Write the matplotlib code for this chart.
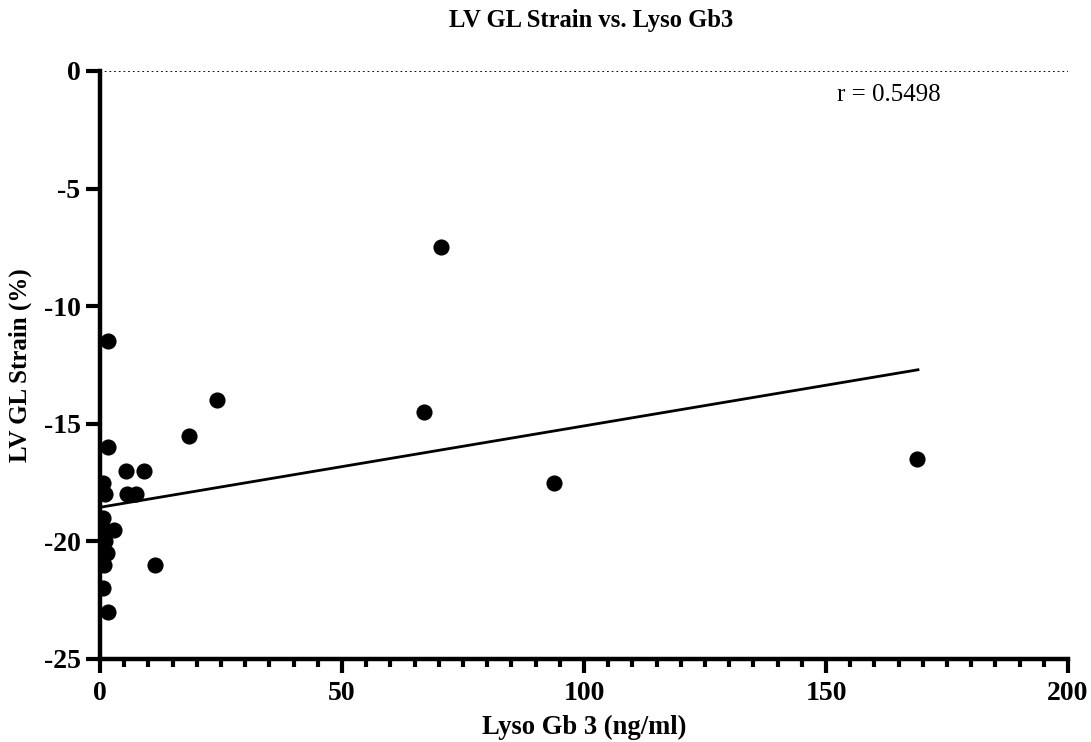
import matplotlib
matplotlib.use("Agg")
import matplotlib.pyplot as plt
import numpy as np

# Data
lyso_gb3 = [1.6, 24.1, 18.4, 1.6, 5.4, 9.0, 0.55, 1.0, 5.5, 7.4, 0.55, 1.0, 2.8,
            1.0, 1.4, 0.8, 11.4, 0.55, 1.7, 70.5, 67.0, 93.8, 168.8]
lv_gl_strain = [-11.5, -14.0, -15.5, -16.0, -17.0, -17.0, -17.5, -18.0, -18.0, -18.0,
                -19.0, -19.5, -19.5, -20.0, -20.5, -21.0, -21.0, -22.0, -23.0,
                -7.5, -14.5, -17.5, -16.5]
fit_intercept = -18.55
fit_slope = 0.0346
fit_range = [0, 169]
r_value = 0.5498
x_ticks = [0, 50, 100, 150, 200]
y_ticks = [0, -5, -10, -15, -20, -25]

plt.rcParams['font.family'] = ['Liberation Serif', 'DejaVu Serif']
plt.rcParams['axes.unicode_minus'] = False

fig = plt.figure(figsize=(10.91, 7.42), dpi=100)
ax = fig.add_axes([100/1091, 1-659/742, (1068-100)/1091, (659-71)/742])

ax.scatter(lyso_gb3, lv_gl_strain, s=135, color='black', zorder=3, linewidths=0)
fx = np.array(fit_range, dtype=float)
ax.plot(fx, fit_intercept + fit_slope*fx, color='black', lw=2, zorder=2)
ax.axhline(0, color='black', lw=1.3, ls=(0, (1, 1.6)), zorder=1)

ax.set_xlim(0, 200)
ax.set_ylim(-25, 0)
for s in ['top', 'right']:
    ax.spines[s].set_visible(False)
for s in ['left', 'bottom']:
    ax.spines[s].set_linewidth(3.2)

ax.set_xticks(x_ticks)
ax.set_xticks(np.arange(0, 201, 5), minor=True)
ax.set_yticks(y_ticks)
ax.tick_params(axis='x', which='major', length=10, width=3, direction='out', pad=6)
ax.tick_params(axis='x', which='minor', length=6, width=3, direction='out')
ax.tick_params(axis='y', which='major', length=10, width=3, direction='out', pad=4)
for lab in ax.get_xticklabels() + ax.get_yticklabels():
    lab.set_fontweight('bold')
    lab.set_fontsize(20)

ax.set_xlabel('Lyso Gb 3 (ng/ml)', fontsize=19.2, fontweight='bold', labelpad=6)
ax.set_ylabel('LV GL Strain (%)', fontsize=18, fontweight='bold', labelpad=8)
fig.text(591/1091, 1-20/742, 'LV GL Strain vs. Lyso Gb3', fontsize=17.7,
         fontweight='bold', ha='center', va='center')
ax.text(163, -1.02, f'r = {r_value:.4f}', fontsize=18, ha='center', va='center')

fig.savefig('out.png', dpi=100)
